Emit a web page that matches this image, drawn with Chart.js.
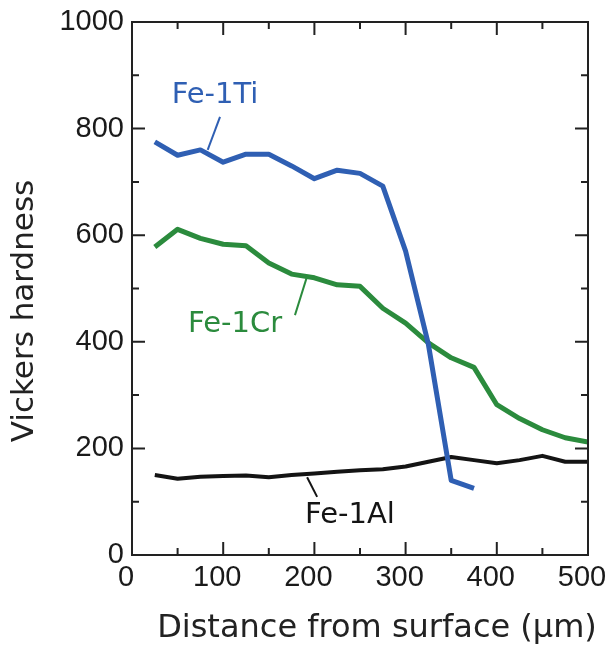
<!DOCTYPE html>
<html>
<head>
<meta charset="utf-8">
<script src="https://cdn.jsdelivr.net/npm/chart.js@4/dist/chart.umd.min.js"></script>
<style>
  html, body { margin: 0; padding: 0; background: #fff; }
</style>
</head>
<body>
<canvas id="hardnessChart" width="611" height="646"></canvas>
<script>
// Distance from surface (µm) and Vickers hardness
const tiDistance = [25, 50, 75, 100, 125, 150, 175, 200, 225, 250, 275, 300, 325, 350, 375];
const tiHardness = [775, 750, 760, 737, 752, 752, 730, 706, 722, 716, 692, 570, 395, 140, 125];

const crDistance = [25, 50, 75, 100, 125, 150, 175, 200, 225, 250, 275, 300, 325, 350, 375, 400, 425, 450, 475, 500];
const crHardness = [578, 611, 594, 583, 580, 548, 527, 520, 507, 504, 463, 435, 398, 370, 352, 282, 256, 235, 220, 212];

const alDistance = [25, 50, 75, 100, 125, 150, 175, 200, 225, 250, 275, 300, 325, 350, 375, 400, 425, 450, 475, 500];
const alHardness = [150, 143, 147, 148, 149, 146, 150, 153, 156, 159, 161, 166, 175, 184, 178, 172, 178, 186, 175, 175];

const seriesNames = ['Fe-1Ti', 'Fe-1Cr', 'Fe-1Al'];

const xTickValues = [0, 100, 200, 300, 400, 500];
const yTickValues = [0, 200, 400, 600, 800, 1000];
const xMinorValues = [50, 150, 250, 350, 450];
const yMinorValues = [100, 300, 500, 700, 900];

const colors = ['#2f5fb3', '#2b8b3d', '#141414'];

// label text and leader line, in data units
const callouts = [
    { text: seriesNames[0], at: [91, 863], from: [96.5, 822], to: [83, 760] },
    { text: seriesNames[1], at: [113, 433], from: [178.7, 450], to: [192, 523] },
    { text: seriesNames[2], at: [239, 75], from: [203, 109], to: [192, 146] }
];

const toPoints = (xs, ys) => xs.map((x, i) => ({ x: x, y: ys[i] }));

// Frame with inward ticks, axis titles and the curve labels
const framePlugin = {
    id: 'frame',
    afterDraw(chart) {
        const { ctx, chartArea: a, scales: { x, y } } = chart;
        ctx.save();
        ctx.strokeStyle = '#222';
        ctx.lineWidth = 2;
        ctx.strokeRect(a.left, a.top, a.right - a.left, a.bottom - a.top);

        ctx.beginPath();
        const vTick = (v, len) => {
            const px = x.getPixelForValue(v);
            ctx.moveTo(px, a.bottom); ctx.lineTo(px, a.bottom - len);
            ctx.moveTo(px, a.top); ctx.lineTo(px, a.top + len);
        };
        const hTick = (v, len) => {
            const py = y.getPixelForValue(v);
            ctx.moveTo(a.left, py); ctx.lineTo(a.left + len, py);
            ctx.moveTo(a.right, py); ctx.lineTo(a.right - len, py);
        };
        xTickValues.forEach(v => vTick(v, 13));
        xMinorValues.forEach(v => vTick(v, 7));
        yTickValues.forEach(v => hTick(v, 13));
        yMinorValues.forEach(v => hTick(v, 7));
        ctx.stroke();

        // axis titles
        ctx.fillStyle = '#222';
        ctx.font = '32px "DejaVu Sans"';
        ctx.textAlign = 'center';
        ctx.textBaseline = 'alphabetic';
        ctx.fillText('Distance from surface (µm)', 377, 637);

        ctx.save();
        ctx.translate(33, 311);
        ctx.rotate(-Math.PI / 2);
        ctx.font = '31px "DejaVu Sans"';
        ctx.fillText('Vickers hardness', 0, 0);
        ctx.restore();

        // curve labels
        ctx.font = '29px "DejaVu Sans"';
        ctx.textBaseline = 'middle';
        callouts.forEach((c, i) => {
            ctx.fillStyle = colors[i];
            ctx.strokeStyle = colors[i];
            ctx.lineWidth = 2;
            ctx.fillText(c.text, x.getPixelForValue(c.at[0]), y.getPixelForValue(c.at[1]));
            ctx.beginPath();
            ctx.moveTo(x.getPixelForValue(c.from[0]), y.getPixelForValue(c.from[1]));
            ctx.lineTo(x.getPixelForValue(c.to[0]), y.getPixelForValue(c.to[1]));
            ctx.stroke();
        });
        ctx.restore();
    }
};

new Chart(document.getElementById('hardnessChart'), {
    type: 'line',
    data: {
        datasets: [
            { label: seriesNames[0], data: toPoints(tiDistance, tiHardness), borderColor: colors[0], borderWidth: 5 },
            { label: seriesNames[1], data: toPoints(crDistance, crHardness), borderColor: colors[1], borderWidth: 5 },
            { label: seriesNames[2], data: toPoints(alDistance, alHardness), borderColor: colors[2], borderWidth: 4 }
        ]
    },
    options: {
        responsive: false,
        animation: false,
        devicePixelRatio: 1,
        layout: { padding: { top: 22, right: 23, left: 0, bottom: 0 } },
        elements: {
            point: { radius: 0 },
            line: { tension: 0, borderJoinStyle: 'round', borderCapStyle: 'butt', fill: false }
        },
        plugins: {
            legend: { display: false },
            tooltip: { enabled: false }
        },
        scales: {
            x: {
                type: 'linear',
                min: 0,
                max: 500,
                afterBuildTicks: scale => { scale.ticks = xTickValues.map(v => ({ value: v })); },
                afterFit: scale => {
                    scale.height = 91;
                    scale.paddingLeft = 0;
                    scale.paddingRight = 0;
                },
                grid: { display: false, drawTicks: false },
                border: { display: false },
                ticks: {
                    padding: 6,
                    labelOffset: -6,
                    maxRotation: 0,
                    color: '#1a1a1a',
                    callback: v => String(v),
                    font: { family: '"Liberation Sans", Arial', size: 29 }
                }
            },
            y: {
                min: 0,
                max: 1000,
                afterBuildTicks: scale => { scale.ticks = yTickValues.map(v => ({ value: v })); },
                afterFit: scale => {
                    scale.width = 132;
                    scale.paddingTop = 0;
                    scale.paddingBottom = 0;
                },
                grid: { display: false, drawTicks: false },
                border: { display: false },
                ticks: {
                    padding: 8,
                    color: '#1a1a1a',
                    callback: v => String(v),
                    font: { family: '"Liberation Sans", Arial', size: 29 }
                }
            }
        }
    },
    plugins: [framePlugin]
});
</script>
</body>
</html>
